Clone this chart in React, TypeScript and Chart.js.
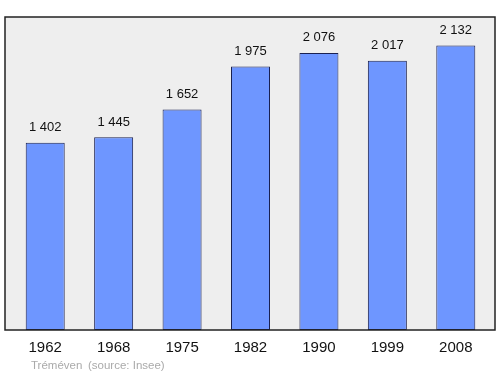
import React, { useEffect, useRef } from "react";
import { Chart, registerables } from "chart.js";

Chart.register(...registerables);

const years = ["1962", "1968", "1975", "1982", "1990", "1999", "2008"];
const population = [1402, 1445, 1652, 1975, 2076, 2017, 2132];
const footerLeft = "Tréméven";
const footerRight = "(source: Insee)";

const fmt = (v: number) => String(v).replace(/\B(?=(\d{3})+(?!\d))/g, " ");

const framePlugin = {
  id: "frame",
  beforeDraw(chart: any) {
    const { ctx, chartArea } = chart;
    const l = chartArea.left - 6;
    const r = chartArea.right + 5;
    ctx.save();
    ctx.fillStyle = "#eeeeee";
    ctx.fillRect(l, chartArea.top, r - l, chartArea.bottom - chartArea.top);
    ctx.restore();
  },
  afterDatasetsDraw(chart: any) {
    const { ctx, chartArea } = chart;
    const l = chartArea.left - 6;
    const r = chartArea.right + 5;
    ctx.save();
    ctx.strokeStyle = "#222222";
    ctx.lineWidth = 1.5;
    ctx.strokeRect(l, chartArea.top, r - l, chartArea.bottom - chartArea.top);
    // value labels
    const meta = chart.getDatasetMeta(0);
    ctx.fillStyle = "#111111";
    ctx.font = "13px 'Liberation Sans', Arial, sans-serif";
    ctx.textAlign = "center";
    ctx.textBaseline = "middle";
    meta.data.forEach((bar: any, i: number) => {
      ctx.fillText(fmt(population[i]), bar.x, bar.y - 15);
    });
    // footer
    ctx.fillStyle = "#aaaaaa";
    ctx.font = "11.5px 'Liberation Sans', Arial, sans-serif";
    ctx.textAlign = "left";
    ctx.fillText(footerLeft, 31, 366);
    ctx.fillText(footerRight, 88, 366);
    ctx.restore();
  },
};

export default function App() {
  const ref = useRef<HTMLCanvasElement>(null);
  useEffect(() => {
    if (!ref.current) return;
    const chart = new Chart(ref.current, {
      type: "bar",
      data: {
        labels: years,
        datasets: [
          {
            data: population,
            backgroundColor: "#6e96ff",
            borderColor: "#1a2050",
            borderWidth: 1,
            borderSkipped: false,
            barPercentage: 0.57,
            categoryPercentage: 1,
          },
        ],
      },
      options: {
        animation: false,
        responsive: false,
        maintainAspectRatio: false,
        layout: { padding: { top: 17, left: 11, right: 10, bottom: 8 } },
        plugins: { legend: { display: false }, tooltip: { enabled: false } },
        scales: {
          y: { display: false, min: 0, max: 2345 },
          x: {
            grid: { display: false, drawTicks: false },
            border: { display: false },
            ticks: {
              color: "#111111",
              padding: 9,
              font: { family: "'Liberation Sans', Arial, sans-serif", size: 15 },
            },
          },
        },
      },
      plugins: [framePlugin],
    });
    return () => chart.destroy();
  }, []);
  return (
    <div style={{ position: "fixed", left: 0, top: 0, width: 500, height: 374, background: "#ffffff" }}>
      <canvas ref={ref} width={500} height={374} style={{ display: "block" }} />
    </div>
  );
}
